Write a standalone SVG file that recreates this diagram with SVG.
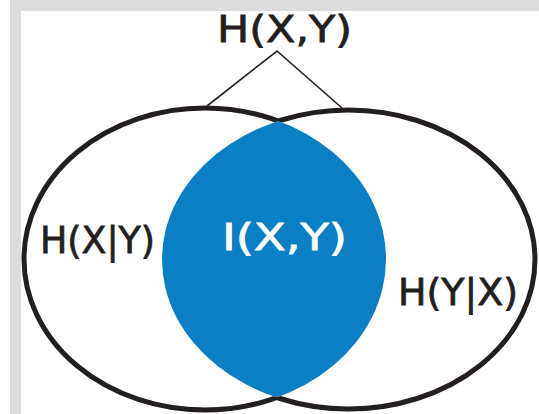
<svg xmlns="http://www.w3.org/2000/svg" width="539" height="414" viewBox="0 0 539 414">
  <style>
    .lbl { font-family: "DejaVu Sans", "Liberation Sans", sans-serif; font-size: 38px; fill: #231f20; stroke: #231f20; stroke-width: 0.8; }
    .inv { fill: #ffffff; stroke: #ffffff; }
    .ring { fill: none; stroke: #231f20; stroke-width: 5; }
    .conn { fill: none; stroke: #231f20; stroke-width: 1.6; }
  </style>
  <defs>
    <clipPath id="clipR">
      <ellipse cx="348.5" cy="259.5" rx="186.5" ry="149.5"/>
    </clipPath>
    <mask id="outR" maskUnits="userSpaceOnUse" x="0" y="0" width="539" height="414">
      <rect x="0" y="0" width="539" height="414" fill="#fff"/>
      <ellipse cx="348.5" cy="259.5" rx="186.5" ry="149.5" fill="#000"/>
    </mask>
    <mask id="outL" maskUnits="userSpaceOnUse" x="0" y="0" width="539" height="414">
      <rect x="0" y="0" width="539" height="414" fill="#fff"/>
      <ellipse cx="205" cy="259" rx="181" ry="151" fill="#000"/>
    </mask>
  </defs>
  <rect x="0" y="0" width="539" height="414" fill="#ffffff"/>
  <rect x="10" y="0" width="529" height="11" fill="#dcdcdc"/>
  <rect x="10" y="0" width="11" height="414" fill="#dcdcdc"/>

  <g id="intersection">
    <ellipse cx="205" cy="259" rx="181" ry="151" fill="#0a7fc4" clip-path="url(#clipR)"/>
    <text class="lbl inv" x="222" y="250" textLength="125" lengthAdjust="spacingAndGlyphs">I(X,Y)</text>
  </g>
  <g id="setX">
    <ellipse class="ring" cx="205" cy="259" rx="181" ry="151" mask="url(#outR)"/>
    <text class="lbl" x="40" y="253" textLength="115" lengthAdjust="spacingAndGlyphs">H(X|Y)</text>
  </g>
  <g id="setY">
    <ellipse class="ring" cx="348.5" cy="259.5" rx="186.5" ry="149.5" mask="url(#outL)"/>
    <text class="lbl" x="398" y="305" textLength="120" lengthAdjust="spacingAndGlyphs">H(Y|X)</text>
  </g>
  <g id="joint">
    <text class="lbl" x="217" y="42" textLength="135" lengthAdjust="spacingAndGlyphs">H(X,Y)</text>
  </g>
  <g id="connectors">
    <polyline class="conn" points="207,106 277,51 342,108"/>
  </g>
</svg>
